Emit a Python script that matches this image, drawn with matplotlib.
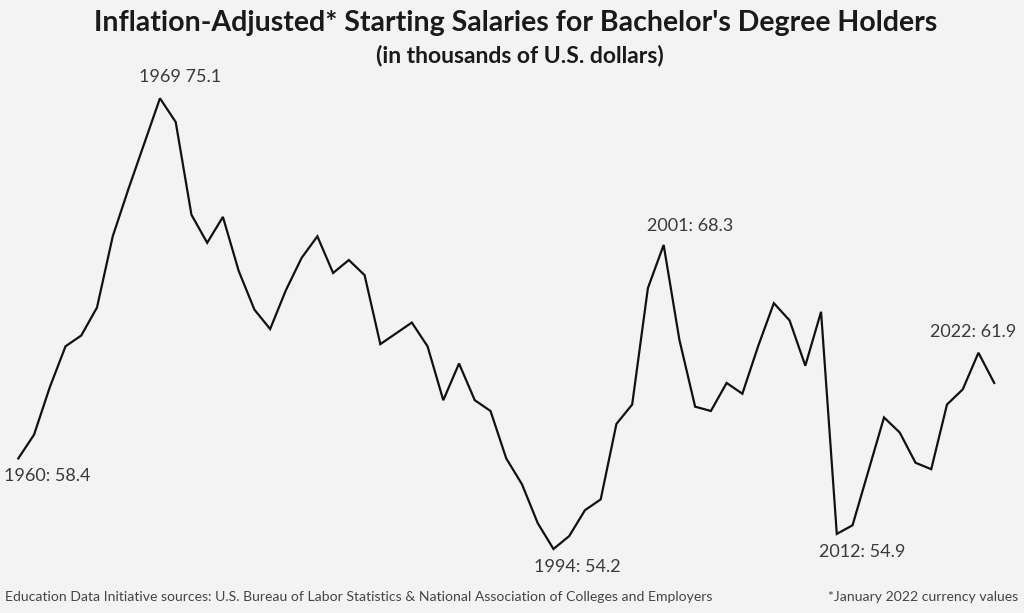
import matplotlib.pyplot as plt

years = list(range(1960, 2023))
salary = [58.4, 59.5, 61.7, 63.6, 64.1, 65.4, 68.7, 70.9, 73.0, 75.1,
          74.0, 69.7, 68.4, 69.6, 67.1, 65.3, 64.4, 66.2, 67.7, 68.7,
          67.0, 67.6, 66.9, 63.7, 64.2, 64.7, 63.6, 61.1, 62.8, 61.1,
          60.6, 58.4, 57.2, 55.4, 54.2, 54.8, 56.0, 56.5, 60.0, 60.9,
          66.3, 68.3, 63.9, 60.8, 60.6, 61.9, 61.4, 63.6, 65.6, 64.8,
          62.7, 65.2, 54.9, 55.3, 57.8, 60.3, 59.6, 58.2, 57.9, 60.9,
          61.6, 63.3, 61.9]

# labelled points: year, text, offset in pixels (dx, dy)
callouts = [
    (1960, '1960: 58.4', (29, -18)),
    (1969, '1969 75.1', (20, 21)),
    (1994, '1994: 54.2', (24, -18)),
    (2001, '2001: 68.3', (26, 19)),
    (2012, '2012: 54.9', (25, -18)),
    (2022, '2022: 61.9', (-21, 51)),
]

bg = '#f3f3f3'
plt.rcParams['font.family'] = ['Lato', 'DejaVu Sans']

fig = plt.figure(figsize=(10.24, 6.13), dpi=100, facecolor=bg)
ax = fig.add_axes([18.3 / 1024, 64 / 613, (994.2 - 18.3) / 1024, 450.7 / 613])
ax.set_facecolor(bg)
ax.plot(years, salary, color='#111111', lw=1.6, clip_on=False,
        solid_joinstyle='miter')
ax.set_xlim(1960, 2022)
ax.set_ylim(54.2, 75.1)
ax.axis('off')

for yr, txt, (dx, dy) in callouts:
    val = salary[years.index(yr)]
    ax.annotate(txt, (yr, val), xytext=(dx / 1.389, dy / 1.389),
                textcoords='offset points', ha='center', va='center',
                fontsize=13, color='#3a3a3a')

fig.text(0.504, 1 - 23 / 613, "Inflation-Adjusted* Starting Salaries for Bachelor's Degree Holders",
         ha='center', va='center', fontsize=20.5, fontweight='bold', color='#1a1a1a')
fig.text(0.508, 1 - 56 / 613, '(in thousands of U.S. dollars)',
         ha='center', va='center', fontsize=16.5, fontweight='bold', color='#1a1a1a')

fig.text(5 / 1024, 1 - 597 / 613,
         'Education Data Initiative sources: U.S. Bureau of Labor Statistics & National Association of Colleges and Employers',
         ha='left', va='center', fontsize=10.1, color='#444444')
fig.text(1018 / 1024, 1 - 597 / 613, '*January 2022 currency values',
         ha='right', va='center', fontsize=10.1, color='#444444')

fig.savefig('out.png', dpi=100, facecolor=bg)
